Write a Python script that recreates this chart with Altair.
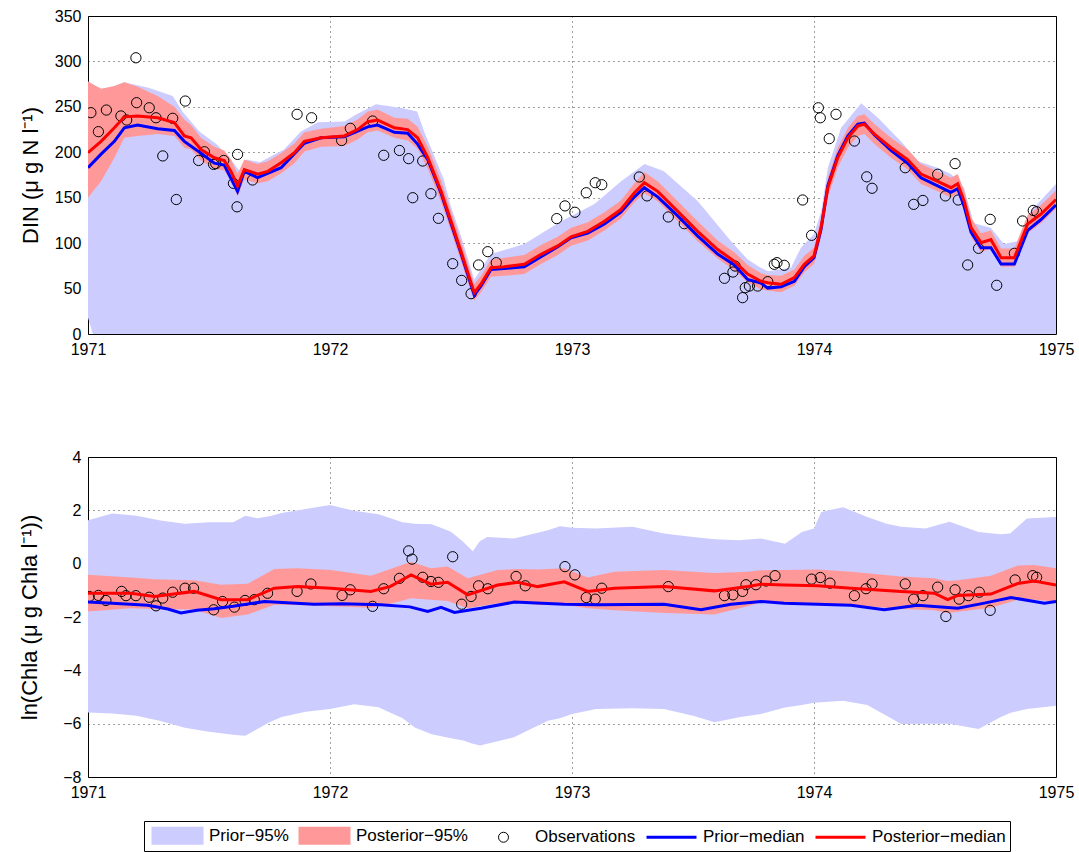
import altair as alt
import pandas as pd

FONT = "Liberation Sans"
YEARS = [1971, 1972, 1973, 1974, 1975]

# ---------------- DIN panel (top) ----------------
# (time, lower, upper)
DIN_PRIOR_BAND = [
    (1971.00, 18, 278), (1971.02, 0, 274), (1971.054, 0, 270), (1971.082, 0, 270),
    (1971.15, 0, 277), (1971.25, 0, 271), (1971.35, 0, 262), (1971.39, 0, 245),
    (1971.46, 0, 223), (1971.53, 0, 209), (1971.585, 0, 194), (1971.627, 0, 179),
    (1971.655, 0, 192), (1971.71, 0, 189), (1971.81, 0, 203), (1971.88, 0, 223),
    (1971.95, 0, 233), (1972.06, 0, 234), (1972.11, 0, 242), (1972.19, 0, 253),
    (1972.29, 0, 249), (1972.36, 0, 245), (1972.39, 0, 222), (1972.417, 0, 205),
    (1972.47, 0, 170), (1972.50, 0, 140), (1972.541, 0, 108), (1972.596, 0, 60),
    (1972.665, 0, 88), (1972.803, 0, 99), (1972.955, 0, 124), (1973.093, 0, 143),
    (1973.203, 0, 168), (1973.30, 0, 187), (1973.38, 0, 179), (1973.52, 0, 146),
    (1973.657, 0, 102), (1973.726, 0, 82), (1973.78, 0, 73), (1973.81, 0, 69),
    (1973.905, 0, 73), (1973.946, 0, 95), (1974.0, 0, 110), (1974.03, 0, 135),
    (1974.057, 0, 183), (1974.112, 0, 227), (1974.195, 0, 254), (1974.264, 0, 238),
    (1974.36, 0, 212), (1974.43, 0, 190), (1974.51, 0, 183), (1974.566, 0, 176),
    (1974.62, 0, 161), (1974.66, 0, 122), (1974.73, 0, 117), (1974.785, 0, 99),
    (1974.84, 0, 102), (1974.895, 0, 135), (1975.0, 0, 165),
]
DIN_POST_BAND = [
    (1971.0, 150, 278), (1971.054, 168, 270), (1971.109, 194, 273), (1971.15, 216, 277),
    (1971.205, 218, 272), (1971.288, 220, 262), (1971.357, 218, 250), (1971.398, 205, 236),
    (1971.426, 203, 230), (1971.467, 191, 216), (1971.522, 182, 206), (1971.563, 180, 202),
    (1971.591, 168, 192), (1971.618, 152, 176), (1971.646, 170, 192), (1971.701, 166, 187),
    (1971.743, 168, 190), (1971.798, 177, 199), (1971.853, 188, 210), (1971.894, 201, 222),
    (1971.963, 206, 226), (1972.059, 207, 229), (1972.114, 214, 236), (1972.156, 222, 245),
    (1972.197, 224, 247), (1972.266, 216, 238), (1972.321, 213, 237), (1972.362, 204, 228),
    (1972.404, 182, 206), (1972.459, 145, 169), (1972.5, 113, 135), (1972.541, 80, 102),
    (1972.596, 37, 55), (1972.624, 46, 64), (1972.665, 63, 82), (1972.72, 64, 84),
    (1972.803, 66, 87), (1972.872, 77, 98), (1972.941, 87, 107), (1972.996, 97, 117),
    (1973.065, 103, 123), (1973.134, 114, 134), (1973.202, 127, 147), (1973.258, 145, 166),
    (1973.299, 155, 178), (1973.354, 146, 168), (1973.437, 124, 146), (1973.519, 102, 124),
    (1973.602, 83, 103), (1973.671, 70, 90), (1973.726, 57, 76), (1973.781, 49, 67),
    (1973.809, 48, 65), (1973.864, 46, 64), (1973.919, 53, 71), (1973.96, 68, 86),
    (1974.0, 77, 95), (1974.029, 107, 127), (1974.057, 150, 172), (1974.098, 183, 205),
    (1974.14, 205, 227), (1974.181, 218, 240), (1974.208, 220, 242), (1974.25, 209, 231),
    (1974.318, 194, 216), (1974.387, 181, 203), (1974.442, 165, 187), (1974.511, 157, 179),
    (1974.566, 150, 172), (1974.594, 155, 176), (1974.621, 135, 157), (1974.649, 107, 128),
    (1974.69, 90, 111), (1974.731, 94, 114), (1974.773, 74, 94), (1974.828, 74, 94),
    (1974.883, 111, 131), (1974.938, 122, 142), (1975.0, 138, 158),
]
DIN_PRIOR_MED = [
    (1971.0, 183), (1971.054, 198), (1971.109, 212), (1971.15, 227), (1971.205, 230),
    (1971.288, 226), (1971.357, 224), (1971.398, 212), (1971.467, 199), (1971.522, 188),
    (1971.563, 186), (1971.618, 157), (1971.646, 179), (1971.701, 172), (1971.798, 183),
    (1971.894, 210), (1971.963, 216), (1972.059, 217), (1972.156, 228), (1972.197, 230),
    (1972.266, 222), (1972.321, 221), (1972.362, 209), (1972.404, 192), (1972.459, 155),
    (1972.5, 122), (1972.541, 89), (1972.596, 43), (1972.624, 53), (1972.665, 71),
    (1972.72, 72), (1972.803, 74), (1972.872, 85), (1972.941, 96), (1972.996, 106),
    (1973.065, 111), (1973.134, 121), (1973.202, 134), (1973.258, 151), (1973.299, 161),
    (1973.354, 151), (1973.437, 130), (1973.519, 108), (1973.602, 88), (1973.671, 76),
    (1973.726, 60), (1973.781, 56), (1973.809, 50.5), (1973.864, 52), (1973.919, 58),
    (1973.96, 74), (1974.0, 84), (1974.029, 115), (1974.057, 163), (1974.098, 196),
    (1974.14, 218), (1974.181, 231), (1974.208, 232), (1974.25, 219), (1974.318, 202),
    (1974.387, 188), (1974.442, 172), (1974.511, 163), (1974.566, 156), (1974.594, 160),
    (1974.621, 140), (1974.649, 112), (1974.69, 95), (1974.731, 95), (1974.773, 77),
    (1974.828, 77), (1974.883, 114), (1974.938, 126), (1975.0, 142),
]
DIN_POST_MED = [
    (1971.0, 199.5), (1971.054, 212), (1971.109, 227), (1971.15, 239), (1971.205, 240),
    (1971.288, 238), (1971.357, 232.6), (1971.398, 218), (1971.426, 216), (1971.467, 203),
    (1971.522, 194), (1971.563, 191), (1971.591, 179), (1971.618, 163), (1971.646, 181),
    (1971.701, 176), (1971.743, 179), (1971.798, 188.5), (1971.853, 199.5), (1971.894, 212),
    (1971.963, 216), (1972.059, 218), (1972.114, 225), (1972.156, 233.7), (1972.197, 235.5),
    (1972.266, 227), (1972.321, 225), (1972.362, 216), (1972.404, 194), (1972.459, 157),
    (1972.5, 124), (1972.541, 91), (1972.596, 45.5), (1972.624, 55), (1972.665, 73),
    (1972.72, 74), (1972.803, 76.7), (1972.872, 87.7), (1972.941, 97), (1972.996, 107),
    (1973.065, 113), (1973.134, 124), (1973.202, 137), (1973.258, 155.5), (1973.299, 166.5),
    (1973.354, 157), (1973.437, 135), (1973.519, 113), (1973.602, 93), (1973.671, 80),
    (1973.726, 66), (1973.781, 58), (1973.809, 56.5), (1973.864, 54.7), (1973.919, 62),
    (1973.96, 76.7), (1974.0, 86), (1974.029, 117), (1974.057, 161), (1974.098, 194),
    (1974.14, 216), (1974.181, 229), (1974.208, 231), (1974.25, 220), (1974.318, 205),
    (1974.387, 192), (1974.442, 176), (1974.511, 168), (1974.566, 161), (1974.594, 165.5),
    (1974.621, 146), (1974.649, 117), (1974.69, 100.5), (1974.731, 104), (1974.773, 84),
    (1974.828, 84), (1974.883, 121), (1974.938, 132), (1975.0, 148),
]
DIN_OBS = [
    (1971.012, 243.6), (1971.043, 222.7), (1971.076, 246.5), (1971.136, 240), (1971.16, 235.5),
    (1971.198, 304), (1971.201, 254.6), (1971.253, 249), (1971.281, 238), (1971.309, 196),
    (1971.35, 237.4), (1971.365, 148), (1971.402, 256.4), (1971.457, 191), (1971.481, 200.6),
    (1971.519, 186.7), (1971.528, 187.5), (1971.561, 191), (1971.601, 165.8), (1971.618, 197.7),
    (1971.616, 140), (1971.68, 169.5), (1971.864, 241.8), (1971.924, 238), (1972.048, 213),
    (1972.084, 226.4), (1972.176, 234.4), (1972.222, 196.7), (1972.287, 202), (1972.325, 193),
    (1972.342, 150), (1972.383, 190.4), (1972.417, 154.4), (1972.448, 127.3), (1972.507, 77.4),
    (1972.544, 59), (1972.583, 44.4), (1972.614, 76), (1972.652, 90.6), (1972.687, 78.5),
    (1972.937, 127), (1972.971, 141), (1973.012, 134), (1973.059, 155.5), (1973.096, 166.5),
    (1973.123, 164.3), (1973.278, 172.8), (1973.31, 152), (1973.398, 128.8), (1973.464, 121.4),
    (1973.63, 61.3), (1973.665, 68.2), (1973.674, 74.8), (1973.705, 40), (1973.716, 51),
    (1973.733, 52.8), (1973.767, 52.8), (1973.809, 57.6), (1973.836, 76.7), (1973.847, 78.5),
    (1973.877, 75.6), (1973.953, 147.5), (1973.99, 108.6), (1974.018, 249), (1974.026, 238),
    (1974.063, 215), (1974.091, 241.8), (1974.167, 212.4), (1974.218, 173), (1974.24, 160.4),
    (1974.377, 183), (1974.412, 142.7), (1974.45, 147), (1974.511, 175.8), (1974.543, 152),
    (1974.583, 187.5), (1974.596, 147.5), (1974.635, 76), (1974.68, 94.3), (1974.728, 126.2),
    (1974.755, 53.6), (1974.828, 88.8), (1974.862, 124.4), (1974.906, 136), (1974.92, 134.6),
]

# ---------------- ln(Chla) panel (bottom) ----------------
CHL_PRIOR_BAND = [
    (1971.0, -5.58, 1.63), (1971.1, -5.62, 1.88), (1971.2, -5.70, 1.80), (1971.3, -5.90, 1.62),
    (1971.4, -6.15, 1.50), (1971.5, -6.30, 1.55), (1971.6, -6.42, 1.55), (1971.65, -6.45, 1.80),
    (1971.7, -6.20, 1.70), (1971.75, -5.95, 1.78), (1971.8, -5.75, 1.90), (1971.9, -5.55, 2.05),
    (1972.0, -5.45, 2.20), (1972.1, -5.27, 1.98), (1972.2, -5.38, 1.85), (1972.3, -5.80, 1.55),
    (1972.35, -6.14, 1.50), (1972.42, -6.40, 1.48), (1972.5, -6.55, 1.20), (1972.55, -6.63, 0.82),
    (1972.59, -6.75, 0.47), (1972.62, -6.82, 0.85), (1972.65, -6.75, 1.00), (1972.76, -6.51, 0.94),
    (1972.9, -5.89, 1.25), (1972.95, -5.80, 1.40), (1973.0, -5.64, 1.35), (1973.1, -5.45, 1.32),
    (1973.25, -5.42, 1.38), (1973.38, -5.45, 1.13), (1973.5, -5.70, 1.00), (1973.59, -5.95, 0.92),
    (1973.69, -5.76, 0.88), (1973.78, -5.64, 0.94), (1973.88, -5.39, 0.75), (1973.95, -5.30, 1.19),
    (1974.0, -5.22, 1.32), (1974.03, -5.20, 1.94), (1974.12, -5.14, 2.12), (1974.22, -5.30, 1.75),
    (1974.3, -5.70, 1.50), (1974.36, -6.01, 1.38), (1974.46, -6.00, 1.32), (1974.56, -6.00, 1.57),
    (1974.68, -6.20, 1.19), (1974.77, -5.76, 1.10), (1974.81, -5.60, 1.13), (1974.88, -5.45, 1.69),
    (1975.0, -5.33, 1.75),
]
CHL_POST_BAND = [
    (1971.0, -1.79, -0.42), (1971.178, -1.67, -0.52), (1971.274, -1.70, -0.58), (1971.439, -1.72, -0.62),
    (1971.55, -2.04, -0.79), (1971.66, -1.91, -0.75), (1971.77, -1.54, -0.20), (1971.866, -1.55, -0.17),
    (1972.004, -1.60, -0.24), (1972.169, -1.65, -0.45), (1972.25, -1.50, -0.20), (1972.335, -1.30, 0.07),
    (1972.417, -1.35, -0.17), (1972.486, -1.40, -0.11), (1972.569, -1.67, -0.55), (1972.693, -1.48, -0.24),
    (1972.776, -1.45, -0.20), (1972.858, -1.55, -0.22), (1972.968, -1.54, -0.17), (1973.065, -1.67, -0.52),
    (1973.175, -1.75, -0.30), (1973.381, -1.85, -0.24), (1973.588, -1.91, -0.35), (1973.726, -1.60, -0.30),
    (1973.781, -1.45, -0.25), (1973.877, -1.45, -0.24), (1974.015, -1.50, -0.22), (1974.153, -1.55, -0.30),
    (1974.36, -1.70, -0.48), (1974.497, -1.75, -0.55), (1974.552, -1.85, -0.65), (1974.594, -1.80, -0.62),
    (1974.731, -1.65, -0.45), (1974.842, -1.35, -0.07), (1974.91, -1.35, -0.05), (1975.0, -1.42, -0.17),
]
CHL_PRIOR_MED = [
    (1971.0, -1.44), (1971.1, -1.48), (1971.247, -1.56), (1971.33, -1.70), (1971.384, -1.85),
    (1971.45, -1.75), (1971.522, -1.69), (1971.6, -1.60), (1971.729, -1.42), (1971.935, -1.52),
    (1972.05, -1.50), (1972.21, -1.54), (1972.33, -1.62), (1972.404, -1.79), (1972.459, -1.64),
    (1972.514, -1.83), (1972.624, -1.67), (1972.762, -1.44), (1972.968, -1.52), (1973.106, -1.54),
    (1973.381, -1.52), (1973.533, -1.73), (1973.657, -1.52), (1973.781, -1.42), (1973.877, -1.48),
    (1974.153, -1.56), (1974.29, -1.73), (1974.428, -1.56), (1974.594, -1.67), (1974.704, -1.48),
    (1974.814, -1.27), (1974.952, -1.48), (1975.0, -1.42),
]
CHL_POST_MED = [
    (1971.0, -1.11), (1971.178, -1.11), (1971.274, -1.23), (1971.439, -1.04), (1971.55, -1.35),
    (1971.66, -1.35), (1971.77, -0.92), (1971.866, -0.86), (1972.004, -0.92), (1972.169, -1.04),
    (1972.25, -0.85), (1972.335, -0.42), (1972.417, -0.77), (1972.486, -0.70), (1972.569, -1.17),
    (1972.693, -0.80), (1972.776, -0.70), (1972.858, -0.86), (1972.968, -0.68), (1973.065, -1.04),
    (1973.175, -0.92), (1973.381, -0.86), (1973.588, -1.02), (1973.726, -0.86), (1973.781, -0.77),
    (1973.877, -0.80), (1974.015, -0.83), (1974.153, -0.92), (1974.36, -1.04), (1974.497, -1.11),
    (1974.552, -1.35), (1974.594, -1.19), (1974.731, -1.14), (1974.842, -0.74), (1974.91, -0.65),
    (1975.0, -0.80),
]
CHL_OBS = [
    (1971.005, -1.23), (1971.043, -1.19), (1971.074, -1.38), (1971.139, -1.04), (1971.157, -1.20),
    (1971.198, -1.20), (1971.253, -1.26), (1971.281, -1.58), (1971.309, -1.29), (1971.35, -1.07),
    (1971.401, -0.92), (1971.436, -0.92), (1971.519, -1.73), (1971.556, -1.42), (1971.605, -1.63),
    (1971.649, -1.38), (1971.687, -1.35), (1971.742, -1.11), (1971.864, -1.04), (1971.921, -0.76),
    (1972.05, -1.19), (1972.084, -0.98), (1972.176, -1.60), (1972.222, -0.94), (1972.287, -0.55),
    (1972.325, 0.48), (1972.339, 0.17), (1972.383, -0.51), (1972.417, -0.67), (1972.448, -0.70),
    (1972.507, 0.26), (1972.544, -1.52), (1972.583, -1.23), (1972.614, -0.83), (1972.652, -0.94),
    (1972.769, -0.48), (1972.807, -0.83), (1972.971, -0.11), (1973.012, -0.42), (1973.059, -1.27),
    (1973.096, -1.33), (1973.123, -0.92), (1973.398, -0.86), (1973.63, -1.20), (1973.665, -1.17),
    (1973.705, -1.04), (1973.719, -0.79), (1973.76, -0.79), (1973.802, -0.65), (1973.839, -0.45),
    (1973.99, -0.58), (1974.026, -0.52), (1974.066, -0.73), (1974.167, -1.20), (1974.215, -0.94),
    (1974.24, -0.76), (1974.377, -0.76), (1974.412, -1.33), (1974.45, -1.20), (1974.511, -0.88),
    (1974.545, -1.98), (1974.583, -0.98), (1974.6, -1.33), (1974.638, -1.20), (1974.683, -1.07),
    (1974.728, -1.75), (1974.831, -0.61), (1974.904, -0.45), (1974.92, -0.51),
]

LEG_NAMES = ["Prior\u221295%", "Posterior\u221295%", "Observations", "Prior\u2212median", "Posterior\u2212median"]
LEG_FILL = ["#CCCCFF", "#FF9999", "transparent", "#0000FF", "#FF0000"]
LEG_STROKE = ["transparent", "transparent", "#000000", "transparent", "transparent"]
LEG_SHAPE = [
    "M-2.6,-0.9H2.6V0.9H-2.6Z",
    "M-2.6,-0.9H2.6V0.9H-2.6Z",
    "M-0.5,0A0.5,0.5 0 1,0 0.5,0A0.5,0.5 0 1,0 -0.5,0Z",
    "M-2.5,-0.15H2.5V0.15H-2.5Z",
    "M-2.5,-0.15H2.5V0.15H-2.5Z",
]


def band_df(rows):
    return pd.DataFrame(rows, columns=["t", "lo", "hi"])


def line_df(rows):
    return pd.DataFrame(rows, columns=["t", "v"])


AX = dict(
    grid=True, gridDash=[1, 4], gridColor="#000000", gridOpacity=0.75, gridWidth=1,
    domain=False, ticks=False, labelFont=FONT, labelFontSize=16, labelColor="black",
    labelPadding=7, labelFlush=False, labelOverlap=False,
    titleFont=FONT, titleFontSize=22, titleFontWeight="normal", titleColor="black",
)


def panel(prior_band, post_band, prior_med, post_med, obs, ydomain, yvals, ytitle,
          tpad, height, with_legend=False):
    xs = alt.Scale(domain=[1971, 1975], nice=False, zero=False)
    ys = alt.Scale(domain=ydomain, nice=False, zero=False)
    xax = alt.Axis(values=YEARS, format="d", title=None, **AX)
    yax = alt.Axis(values=yvals, title=ytitle, titlePadding=tpad, format="d", **AX)
    X = alt.X("t:Q", scale=xs, axis=xax)

    def Y(f):
        return alt.Y(f, type="quantitative", scale=ys, axis=yax)

    layers = [
        alt.Chart(band_df(prior_band)).mark_area(color="#CCCCFF", clip=True)
        .encode(x=X, y=Y("lo"), y2="hi"),
        alt.Chart(band_df(post_band)).mark_area(color="#FF9999", clip=True)
        .encode(x=X, y=Y("lo"), y2="hi"),
        alt.Chart(line_df(obs)).mark_point(shape="circle", size=105, filled=False,
                                           color="black", strokeWidth=1, opacity=1, clip=True)
        .encode(x=X, y=Y("v")),
        alt.Chart(line_df(prior_med)).mark_line(color="#0000FF", strokeWidth=3, clip=True)
        .encode(x=X, y=Y("v")),
        alt.Chart(line_df(post_med)).mark_line(color="#FF0000", strokeWidth=3, clip=True)
        .encode(x=X, y=Y("v")),
    ]
    if with_legend:
        # legend is lifted to the concat level: position is relative to the top panel origin
        leg = alt.Legend(
            title=None, orient="none", legendX=56, legendY=805, direction="horizontal",
            columns=5, symbolSize=400, symbolStrokeWidth=1, symbolOffset=19,
            labelOffset=21, columnPadding=6, padding=4, strokeColor="black",
            fillColor="white", labelFont=FONT, labelFontSize=17, labelColor="black",
        )
        legdf = pd.DataFrame({"series": LEG_NAMES, "t": [1973.0] * 5, "v": [1000.0] * 5})
        layers.append(
            alt.Chart(legdf).mark_point(filled=True, opacity=1, clip=True, size=0)
            .encode(
                x=X, y=Y("v"),
                fill=alt.Fill("series:N", scale=alt.Scale(domain=LEG_NAMES, range=LEG_FILL), legend=leg),
                stroke=alt.Stroke("series:N", scale=alt.Scale(domain=LEG_NAMES, range=LEG_STROKE), legend=leg),
                shape=alt.Shape("series:N", scale=alt.Scale(domain=LEG_NAMES, range=LEG_SHAPE), legend=leg),
            )
        )
    return alt.layer(*layers).properties(width=968, height=height)


top = panel(DIN_PRIOR_BAND, DIN_POST_BAND, DIN_PRIOR_MED, DIN_POST_MED, DIN_OBS,
            [0, 350], list(range(0, 351, 50)), "DIN (\u03bc g N l\u207b\u00b9)", 12, 318)
bottom = panel(CHL_PRIOR_BAND, CHL_POST_BAND, CHL_PRIOR_MED, CHL_POST_MED, CHL_OBS,
               [-8, 4], list(range(-8, 5, 2)), "ln(Chla (\u03bc g Chla l\u207b\u00b9))", 21, 320,
               with_legend=True)

chart = alt.vconcat(top, bottom, spacing=90).properties(
    padding={"left": 18, "top": 7, "right": 0, "bottom": 0},
    background="white",
).configure_view(stroke="black", strokeWidth=1)

chart.save("out.html", embed_options={"renderer": "svg", "actions": False})
